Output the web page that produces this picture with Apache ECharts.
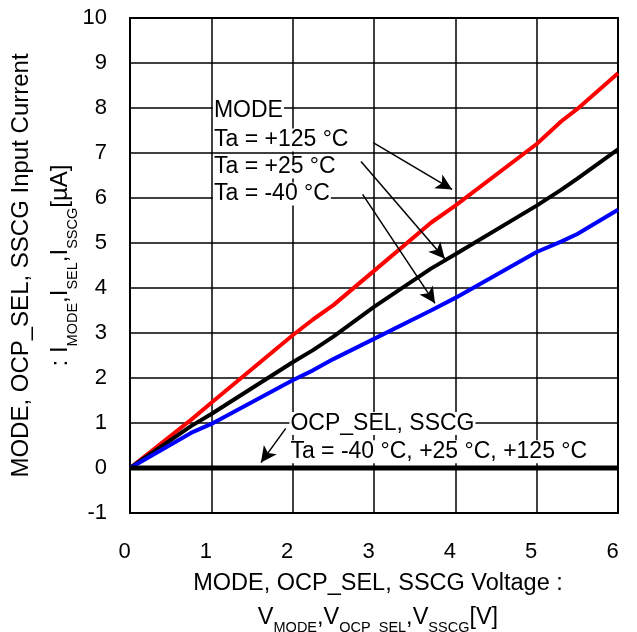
<!DOCTYPE html>
<html><head><meta charset="utf-8">
<script src="https://cdn.jsdelivr.net/npm/echarts@6/dist/echarts.min.js"></script>
<style>html,body{margin:0;padding:0;background:#fff}#c{width:637px;height:632px}</style>
</head><body><div id="c"></div>
<script>
const voltage = [0, 0.75, 1, 2, 2.25, 2.5, 3, 3.7, 4, 5, 5.3, 5.5, 6];
const mode125 = [0, 1.07, 1.45, 2.95, 3.3, 3.62, 4.38, 5.45, 5.83, 7.2, 7.7, 7.98, 8.77];
const mode25  = [0, 0.93, 1.2, 2.35, 2.62, 2.92, 3.58, 4.43, 4.75, 5.83, 6.18, 6.43, 7.08];
const modeM40 = [0, 0.78, 0.98, 1.95, 2.17, 2.42, 2.87, 3.5, 3.78, 4.8, 5.03, 5.2, 5.74];
const ocpVoltage = [0, 6];
const ocpCurrent = [0, 0];
const xTicks = ['0','1','2','3','4','5','6'];
const yTicks = ['-1','0','1','2','3','4','5','6','7','8','9','10'];

const FONT = '"Liberation Sans", Arial, sans-serif';
const pair = (xs, ys) => xs.map((x, i) => [x, ys[i]]);

const chart = echarts.init(document.getElementById('c'), null, {renderer: 'canvas'});
const arrow = (a, b) => [
  {coord: a, symbol: 'none'},
  {coord: b, symbol: 'arrow', symbolSize: [12, 16]}
];
const txt = (coord, text) => ({
  coord, symbol: 'circle', symbolSize: 0,
  label: {show: true, position: 'right', distance: 0, formatter: text,
    fontFamily: FONT, fontSize: 23, color: '#000', backgroundColor: '#fff', padding: [0, 1, 0, 1]}
});

chart.setOption({
  animation: false,
  backgroundColor: '#fff',
  textStyle: {fontFamily: FONT},
  grid: {left: 130, right: 19, top: 18, bottom: 119, show: true, borderColor: '#000', borderWidth: 2,
    containLabel: false, outerBoundsMode: 'none'},
  xAxis: {
    type: 'value', min: 0, max: 6, interval: 1,
    axisLine: {show: false}, axisTick: {show: false},
    splitLine: {show: true, lineStyle: {color: '#000', width: 1.5}},
    axisLabel: {fontSize: 22, color: '#000', margin: 28, fontFamily: FONT, padding: [0, 11, 0, 0],
      formatter: v => xTicks[Math.round(v)]},
    name: '{a|MODE, OCP_SEL, SSCG Voltage :}\n{b|V}{s|MODE}{b|,V}{s|OCP_SEL}{b|,V}{s|SSCG}{b|[V]}',
    nameLocation: 'middle', nameGap: 54, nameMoveOverlap: false,
    nameTextStyle: {
      color: '#000', fontFamily: FONT, padding: [0, 0, 0, 8],
      rich: {
        a: {fontSize: 23.5, lineHeight: 34, color: '#000', fontFamily: FONT},
        b: {fontSize: 23.5, lineHeight: 34, color: '#000', fontFamily: FONT},
        s: {fontSize: 14.5, lineHeight: 20, verticalAlign: 'bottom', color: '#000', fontFamily: FONT}
      }
    }
  },
  yAxis: {
    type: 'value', min: -1, max: 10, interval: 1,
    axisLine: {show: false}, axisTick: {show: false},
    splitLine: {show: true, lineStyle: {color: '#000', width: 1.5}},
    axisLabel: {fontSize: 22, color: '#000', margin: 23, fontFamily: FONT,
      formatter: v => yTicks[Math.round(v) + 1]},
    name: '{a|MODE, OCP_SEL, SSCG Input Current}\n{b|: I}{s|MODE}{b|,I}{s|SEL}{b|,I}{s|SSCG}{b|[µA]}',
    nameLocation: 'middle', nameGap: 50, nameRotate: 90, nameMoveOverlap: false,
    nameTextStyle: {
      color: '#000', fontFamily: FONT,
      rich: {
        a: {fontSize: 24, lineHeight: 39, color: '#000', fontFamily: FONT},
        b: {fontSize: 24, lineHeight: 39, color: '#000', fontFamily: FONT},
        s: {fontSize: 14.5, lineHeight: 24, verticalAlign: 'bottom', color: '#000', fontFamily: FONT}
      }
    }
  },
  series: [
    {name: 'Ta = +125 °C', type: 'line', data: pair(voltage, mode125), symbol: 'none',
     lineStyle: {color: '#ff0000', width: 4}, z: 3},
    {name: 'Ta = +25 °C', type: 'line', data: pair(voltage, mode25), symbol: 'none',
     lineStyle: {color: '#000000', width: 4}, z: 3},
    {name: 'Ta = -40 °C', type: 'line', data: pair(voltage, modeM40), symbol: 'none',
     lineStyle: {color: '#0000ff', width: 4}, z: 3},
    {name: 'OCP_SEL, SSCG', type: 'line', data: pair(ocpVoltage, ocpCurrent), symbol: 'none',
     lineStyle: {color: '#000000', width: 5}, z: 4,
     markLine: {
       silent: true, animation: false,
       label: {show: false},
       lineStyle: {color: '#000', width: 1.5, type: 'solid'},
       data: [
         arrow([2.99, 7.23], [3.96, 6.19]),
         arrow([2.84, 6.81], [3.87, 4.65]),
         arrow([2.86, 6.08], [3.75, 3.66]),
         arrow([1.915, 0.88], [1.61, 0.12])
       ]
     },
     markPoint: {
       silent: true, animation: false,
       data: [
         txt([1.02, 7.93], 'MODE'),
         txt([1.02, 7.29], 'Ta = +125 °C'),
         txt([1.02, 6.69], 'Ta = +25 °C'),
         txt([1.02, 6.09], 'Ta = -40 °C'),
         txt([1.96, 0.99], 'OCP_SEL, SSCG'),
         txt([1.96, 0.36], 'Ta = -40 °C, +25 °C, +125 °C')
       ]
     }
    }
  ]
});
</script>
</body></html>
